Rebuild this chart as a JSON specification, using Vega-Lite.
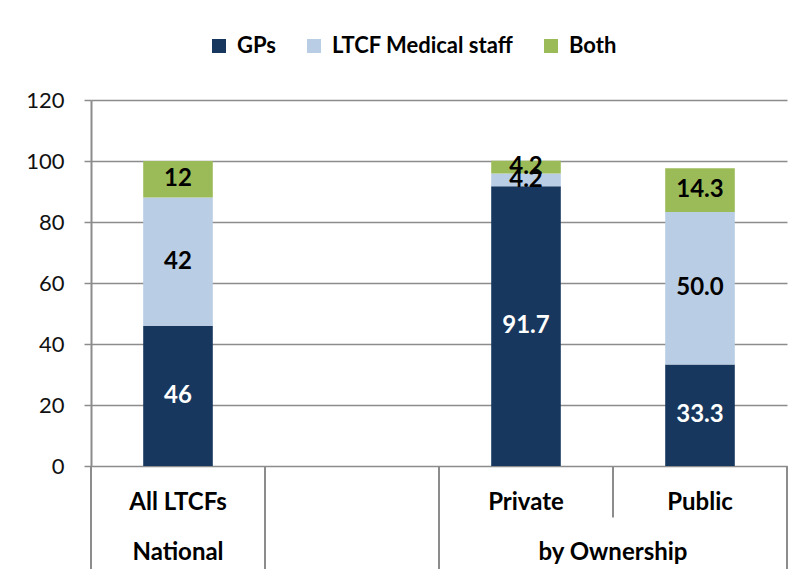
{
  "$schema": "https://vega.github.io/schema/vega-lite/v6.json",
  "background": "white",
  "padding": {"left": 25, "top": 35, "right": 5, "bottom": 5},
  "spacing": 0,
  "bounds": "flush",
  "config": {
    "font": "Lato",
    "view": {"stroke": null},
    "concat": {"spacing": 0}
  },
  "vconcat": [
    {
      "width": 696,
      "height": 366,
      "data": {
        "values": [
          {"cat": "All LTCFs", "type": "GPs", "k": 1, "value": 46, "label": "46"},
          {"cat": "All LTCFs", "type": "LTCF Medical staff", "k": 2, "value": 42, "label": "42"},
          {"cat": "All LTCFs", "type": "Both", "k": 3, "value": 12, "label": "12"},
          {"cat": "Private", "type": "GPs", "k": 1, "value": 91.7, "label": "91.7"},
          {"cat": "Private", "type": "LTCF Medical staff", "k": 2, "value": 4.2, "label": "4.2"},
          {"cat": "Private", "type": "Both", "k": 3, "value": 4.2, "label": "4.2"},
          {"cat": "Public", "type": "GPs", "k": 1, "value": 33.3, "label": "33.3"},
          {"cat": "Public", "type": "LTCF Medical staff", "k": 2, "value": 50.0, "label": "50.0"},
          {"cat": "Public", "type": "Both", "k": 3, "value": 14.3, "label": "14.3"}
        ]
      },
      "encoding": {
        "x": {
          "field": "cat",
          "type": "nominal",
          "scale": {"domain": ["All LTCFs", " ", "Private", "Public"], "paddingInner": 0, "paddingOuter": 0},
          "axis": null
        }
      },
      "layer": [
        {
          "mark": {"type": "bar", "width": {"band": 0.4}},
          "encoding": {
            "y": {
              "field": "value",
              "type": "quantitative",
              "stack": "zero",
              "scale": {"domain": [0, 120], "nice": false},
              "axis": {
                "values": [0, 20, 40, 60, 80, 100, 120],
                "title": null,
                "grid": true,
                "gridColor": "#8c8c8c",
                "gridWidth": 1.5,
                "domainColor": "#8c8c8c",
                "domainWidth": 2,
                "tickColor": "#8c8c8c",
                "tickWidth": 1.5,
                "tickSize": 7,
                "labelFontSize": 22,
                "labelColor": "#111111",
                "labelPadding": 20
              }
            },
            "order": {"field": "k", "type": "quantitative"},
            "color": {
              "field": "type",
              "type": "nominal",
              "scale": {"domain": ["GPs", "LTCF Medical staff", "Both"], "range": ["#17375E", "#B9CDE5", "#9BBB59"]},
              "legend": {
                "orient": "none",
                "legendX": 117,
                "legendY": -65,
                "direction": "horizontal",
                "title": null,
                "symbolType": "square",
                "symbolSize": 196,
                "symbolStrokeWidth": 0,
                "labelFontSize": 22,
                "labelFontWeight": "bold",
                "labelColor": "#000000",
                "labelOffset": 7,
                "labelLimit": 0,
                "columnPadding": 26
              }
            }
          }
        },
        {
          "mark": {"type": "text", "fontSize": 24, "fontWeight": "bold", "baseline": "middle"},
          "encoding": {
            "y": {"field": "value", "type": "quantitative", "stack": "zero", "bandPosition": 0.5},
            "order": {"field": "k", "type": "quantitative"},
            "detail": {"field": "type"},
            "text": {"field": "label"},
            "color": {"condition": {"test": "datum.type === 'GPs'", "value": "white"}, "value": "black"}
          }
        }
      ]
    },
    {
      "width": 696,
      "height": 103,
      "encoding": {
        "x": {
          "field": "cat",
          "type": "nominal",
          "scale": {"domain": ["All LTCFs", " ", "Private", "Public"], "paddingInner": 0, "paddingOuter": 0},
          "axis": null
        }
      },
      "layer": [
        {
          "data": {"values": [{"cat": "All LTCFs"}, {"cat": " "}, {"cat": "Private"}]},
          "mark": {"type": "rule", "color": "#8c8c8c", "strokeWidth": 2},
          "encoding": {"x": {"field": "cat", "type": "nominal", "bandPosition": 0}}
        },
        {
          "data": {"values": [{"cat": "Public"}]},
          "mark": {"type": "rule", "color": "#8c8c8c", "strokeWidth": 2},
          "encoding": {"x": {"field": "cat", "type": "nominal", "bandPosition": 1}}
        },
        {
          "data": {"values": [{"cat": "Public"}]},
          "mark": {"type": "rule", "color": "#8c8c8c", "strokeWidth": 2},
          "encoding": {
            "x": {"field": "cat", "type": "nominal", "bandPosition": 0},
            "y": {"datum": 0, "type": "quantitative", "scale": {"domain": [0, 2], "reverse": true, "nice": false}, "axis": null},
            "y2": {"datum": 1}
          }
        },
        {
          "data": {"values": [{"cat": "All LTCFs"}, {"cat": "Private"}, {"cat": "Public"}]},
          "mark": {"type": "text", "fontSize": 24, "fontWeight": "bold", "color": "black", "baseline": "middle"},
          "encoding": {
            "y": {"datum": 0.72, "type": "quantitative"},
            "text": {"field": "cat"}
          }
        },
        {
          "data": {"values": [{"group": "National", "cat": "All LTCFs"}]},
          "mark": {"type": "text", "fontSize": 24, "fontWeight": "bold", "color": "black", "baseline": "middle"},
          "encoding": {
            "y": {"datum": 1.69, "type": "quantitative"},
            "text": {"field": "group"}
          }
        },
        {
          "data": {"values": [{"group": "by Ownership", "cat": "Public"}]},
          "mark": {"type": "text", "fontSize": 24, "fontWeight": "bold", "color": "black", "baseline": "middle"},
          "encoding": {
            "x": {"field": "cat", "type": "nominal", "bandPosition": 0},
            "y": {"datum": 1.69, "type": "quantitative"},
            "text": {"field": "group"}
          }
        }
      ]
    }
  ]
}
